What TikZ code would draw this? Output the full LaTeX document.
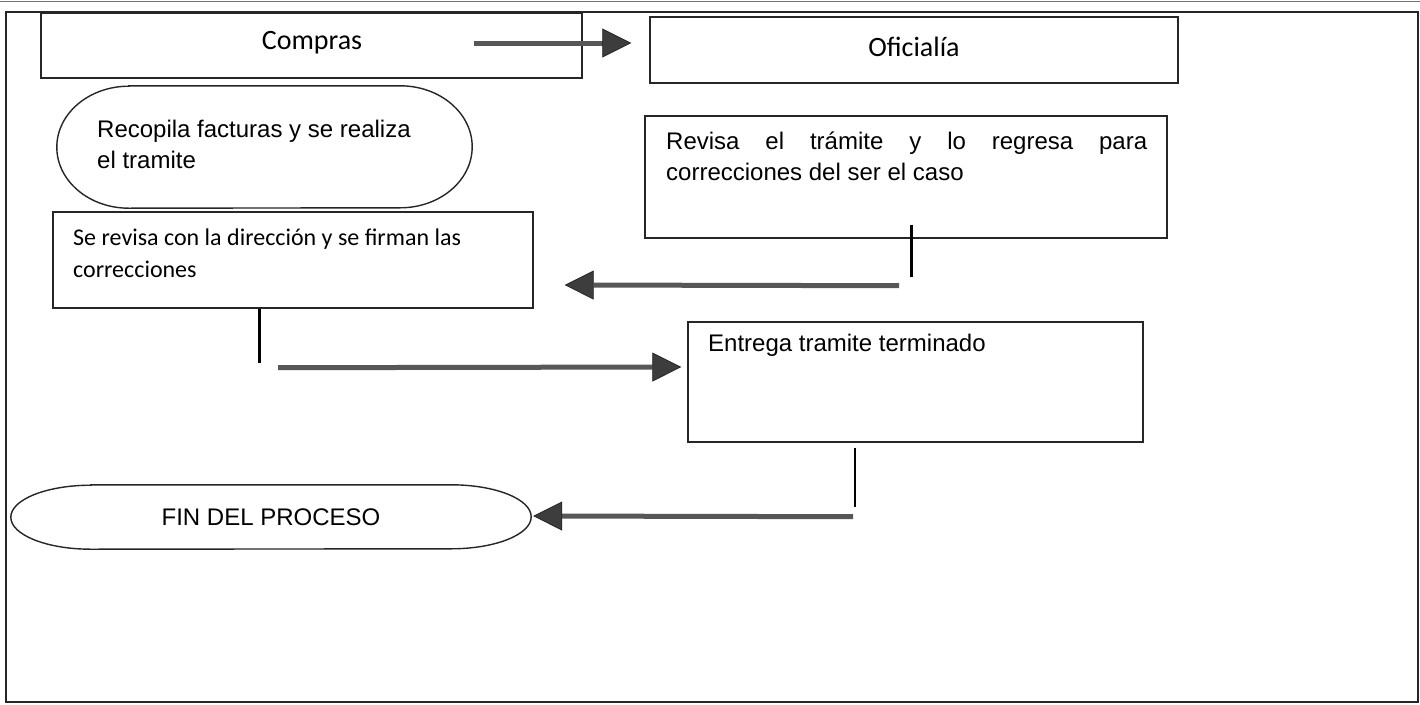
\documentclass[tikz,border=0pt]{standalone}
\usepackage{fontspec}
\setmainfont{Liberation Sans}
\newfontfamily\calfont{Carlito}
\usetikzlibrary{arrows.meta,calc}
\begin{document}
\begin{tikzpicture}[x=1pt,y=-1pt,
  box/.style={draw=black!85, line width=1.4pt, rectangle, inner sep=0pt},
  ghost/.style={rectangle, inner sep=0pt},
  outline/.style={draw=black!85, line width=1.4pt},
  flow/.style={draw=black!66, line width=5pt, -{Triangle[length=29pt,width=29pt,line width=0.8pt,fill=black!76,color=black!85]}},
  stem/.style={draw=black, line width=3pt},
  thinstem/.style={draw=black, line width=1.6pt},
  txt/.style={inner sep=0pt, font=\fontsize{24}{31}\selectfont, align=left},
  ctxt/.style={inner sep=0pt, font=\calfont\fontsize{24}{32}\selectfont, align=left},
  head/.style={font=\calfont\fontsize{28}{34}\selectfont}]
\useasboundingbox (0,0) rectangle (1420,704);
\fill[white] (0,0) rectangle (1420,704);
% page edge and outer frame
\draw[black!55, line width=1pt] (0,1) -- (1420,1);
\draw[black!85, line width=1.6pt] (6,12) rectangle (1418,702);

% boxes
\node[box, minimum width=541pt, minimum height=65pt] (compras) at (311.5,45.5) {};
\node[head, inner sep=0pt] (comprasT) at (312,43) {Compras};
\node[box, minimum width=528pt, minimum height=66pt] (oficialia) at (914,50) {};
\node[head, inner sep=0pt] (oficialiaT) at (914,47) {Oficialía};
\node[ghost, minimum width=415pt, minimum height=122pt] (recopila) at (264.5,147) {};
\draw[outline] ([xshift=72pt]recopila.north west) -- ([xshift=-72pt]recopila.north east)
  arc[start angle=90, end angle=-90, x radius=72pt, y radius=61pt]
  -- ([xshift=72pt]recopila.south west)
  arc[start angle=270, end angle=90, x radius=72pt, y radius=61pt] -- cycle;
\node[box, minimum width=522pt, minimum height=122pt] (revisa) at (906,177) {};
\node[box, minimum width=480pt, minimum height=96pt] (serevisa) at (293,260) {};
\node[box, minimum width=455pt, minimum height=120pt] (entrega) at (915.5,382) {};
\node[ghost, minimum width=520pt, minimum height=64pt, font=\fontsize{24}{30}\selectfont] (fin) at (271,517) {FIN DEL PROCESO};
\draw[outline] ([xshift=80pt]fin.north west) -- ([xshift=-80pt]fin.north east)
  arc[start angle=90, end angle=-90, x radius=80pt, y radius=32pt]
  -- ([xshift=80pt]fin.south west)
  arc[start angle=270, end angle=90, x radius=80pt, y radius=32pt] -- cycle;

% texts
\node[txt, anchor=north west] (recopilaT) at (97,120) {Recopila facturas y se realiza\\el tramite};
\node[txt, anchor=north west] (revisaT) at (666,131.5) {\makebox[481pt][s]{Revisa el trámite y lo regresa para}\\correcciones del ser el caso};
\node[ctxt, anchor=north west] (serevisaT) at (73,229) {Se revisa con la dirección y se firman las\\correcciones};
\node[txt, anchor=north west] (entregaT) at (708,334) {Entrega tramite terminado};

% connectors
\draw[flow] ($(compras.east)+(-109,-2.5)$) -- ($(oficialia.west)+(-18,-7)$);
\draw[stem] ($(revisa.south)+(5,-14)$) -- ($(revisa.south)+(5,38)$);
\draw[flow] ($(revisa.south)+(-7,47)$) -- ($(serevisa.east)+(31,25)$);
\draw[stem] ($(serevisa.south)+(-34,0)$) -- ($(serevisa.south)+(-34,54)$);
\draw[flow] ($(serevisa.south)+(-15,59)$) -- ($(entrega.west)+(-6,-15)$);
\draw[thinstem] ($(entrega.south)+(-60.5,5)$) -- ($(entrega.south)+(-60.5,64)$);
\draw[flow] ($(entrega.south)+(-62.5,74)$) -- ($(fin.east)+(2,-1)$);
\end{tikzpicture}
\end{document}
